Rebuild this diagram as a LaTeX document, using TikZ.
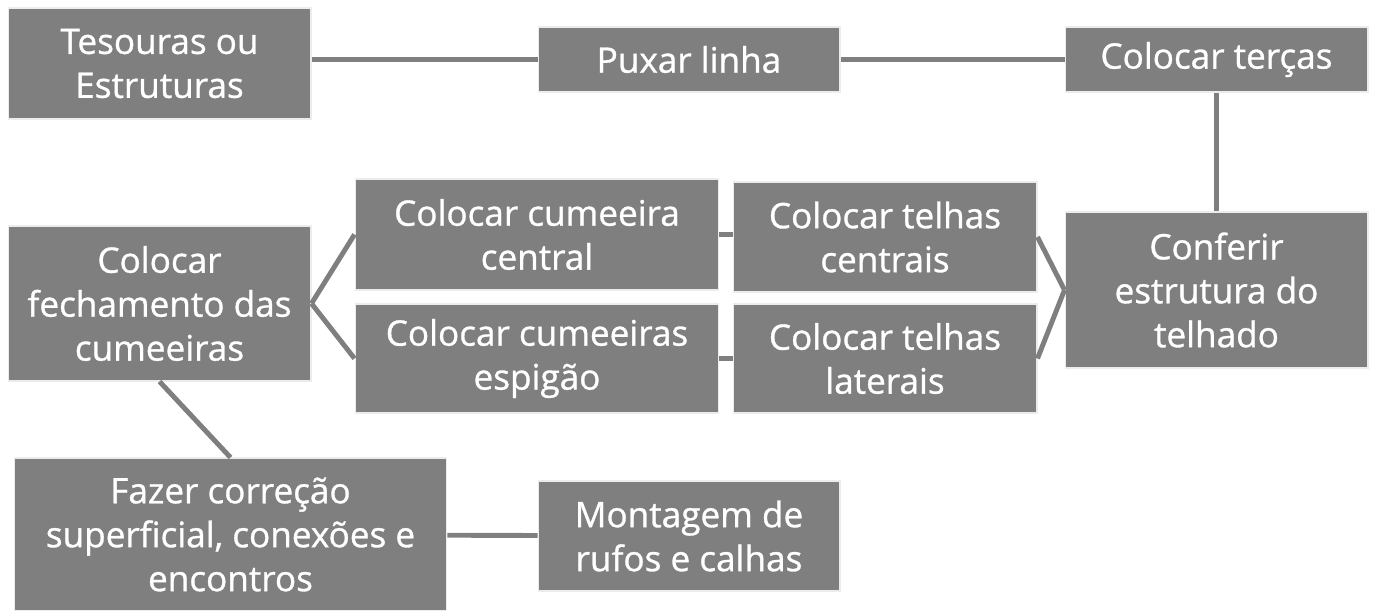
\documentclass[tikz,border=0pt]{standalone}
\usepackage{fontspec}
\setmainfont{Open Sans}
\newfontfamily\taskfont[FakeBold=0.9]{Open Sans}
\usepackage{tikz}
\definecolor{boxgray}{RGB}{127,127,127}

\begin{document}
\begin{tikzpicture}[x=0.02cm,y=-0.02cm,
        task/.style={fill=boxgray,draw=white!85!boxgray,line width=0.6pt,text=white,
            align=center,inner sep=0pt,font=\taskfont\fontsize{20}{25}\selectfont},
        link/.style={draw=boxgray,line width=2.8pt}]
                \useasboundingbox (0,0) rectangle (1376,611);

                % first row
                \node[task,minimum width=6.06cm,minimum height=2.22cm] (tes) at (159.5,63.5) {Tesouras ou\\Estruturas};
                \node[task,minimum width=6.04cm,minimum height=1.30cm] (pux) at (689,59.5) {Puxar linha};
                \node[task,minimum width=6.06cm,minimum height=1.30cm] (ter) at (1216.5,59.5) {Colocar terças};

                % middle block
                \node[task,minimum width=6.06cm,minimum height=3.12cm] (conf) at (1216.5,290) {Conferir\\estrutura do\\telhado};
                \node[task,minimum width=7.28cm,minimum height=2.22cm] (cumc) at (537,234.5) {Colocar cumeeira\\central};
                \node[task,minimum width=7.28cm,minimum height=2.18cm] (cume) at (537,358.5) {Colocar cumeeiras\\espigão};
                \node[task,minimum width=6.08cm,minimum height=2.20cm] (telc) at (885,237) {Colocar telhas\\centrais};
                \node[task,minimum width=6.08cm,minimum height=2.18cm] (tell) at (885,358.5) {Colocar telhas\\laterais};
                \node[task,minimum width=6.06cm,minimum height=3.10cm] (fech) at (159.5,303.5) {Colocar\\fechamento das\\cumeeiras};

                % last row
                \node[task,minimum width=8.66cm,minimum height=3.06cm] (corr) at (230.5,534.5) {Fazer correção\\superficial, conexões e\\encontros};
                \node[task,minimum width=6.04cm,minimum height=2.20cm] (mont) at (689,536) {Montagem de\\rufos e calhas};

                \draw[link] (tes.east |- pux) -- (pux);
                \draw[link] (pux) -- (ter);
                \draw[link] (ter) -- (conf);
                \draw[link] (telc.east) -- (conf.west);
                \draw[link] (tell.east) -- (conf.west);
                \draw[link] (cumc.east) -- (cumc.east -| telc.west);
                \draw[link] (cume) -- (tell);
                \draw[link] (fech.east) -- (cumc.west);
                \draw[link] (fech.east) -- (cume.west);
                \draw[link] (fech.south) -- (corr.north);
                \draw[link] (corr) -- (mont);
            \end{tikzpicture}
\end{document}
